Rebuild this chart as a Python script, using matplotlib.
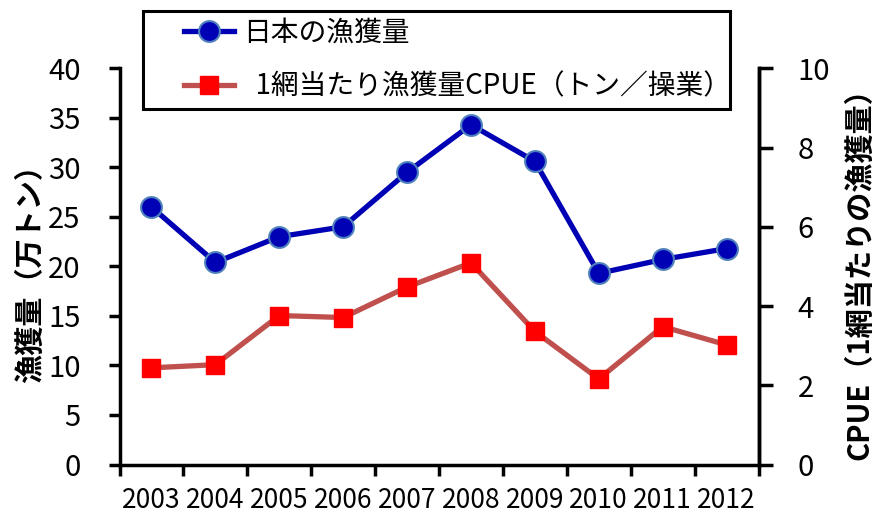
import numpy as np
import matplotlib
matplotlib.use('Agg')
import matplotlib.pyplot as plt
from matplotlib.legend_handler import HandlerLine2D

plt.rcParams['font.family'] = ['Noto Sans CJK JP', 'DejaVu Sans']

# data
years = ['2003', '2004', '2005', '2006', '2007', '2008', '2009', '2010', '2011', '2012']
catch = [26.0, 20.4, 23.0, 24.0, 29.5, 34.3, 30.6, 19.3, 20.7, 21.8]   # 万トン
cpue = [2.44, 2.52, 3.76, 3.71, 4.48, 5.09, 3.36, 2.16, 3.48, 3.02]    # トン／操業

label_catch = '日本の漁獲量'
label_cpue = '  1網当たり漁獲量CPUE（トン／操業）'

fig = plt.figure(figsize=(8.82, 5.17), dpi=100)
ax = fig.add_axes([0.1355, 0.1015, 0.7245, 0.7664])
ax2 = ax.twinx()

x = np.arange(len(years))

l1, = ax.plot(x, catch, color='#0000B4', lw=3.8, marker='o', markersize=15,
              markerfacecolor='#0000B4', markeredgecolor='#4F81BD', markeredgewidth=1.5,
              zorder=4)
l2, = ax2.plot(x, cpue, color='#C0504D', lw=3.8, marker='s', markersize=13,
               markerfacecolor='#FF0000', markeredgecolor='#FF0000', zorder=3)

# axes limits / ticks
ax.set_xlim(-0.5, len(years) - 0.5)
ax.set_ylim(0, 40)
ax.set_yticks(np.arange(0, 41, 5))
ax2.set_ylim(0, 10)
ax2.set_yticks(np.arange(0, 11, 2))

ax.set_xticks(np.arange(-0.5, len(years), 1))
ax.set_xticklabels([])
ax.set_xticks(x, minor=True)
ax.set_xticklabels(years, minor=True)
ax.tick_params(axis='x', which='major', direction='out', length=8, width=2.5)
ax.tick_params(axis='x', which='minor', length=0, labelsize=19, pad=16)
ax.tick_params(axis='y', direction='out', length=8, width=2.5, labelsize=21, pad=20)
ax2.tick_params(axis='y', direction='out', length=10, width=2.5, labelsize=21, pad=18)

ax.spines['top'].set_visible(False)
for s in ['left', 'bottom', 'right']:
    ax.spines[s].set_linewidth(2.5)
for s in ['top', 'left', 'bottom']:
    ax2.spines[s].set_visible(False)
ax2.spines['right'].set_linewidth(2.5)

ax.set_ylabel('漁獲量（万トン）', fontsize=21, fontweight='bold', labelpad=2)
ax2.set_ylabel('CPUE（1網当たりの漁獲量）', fontsize=21, fontweight='bold', labelpad=10)

# legend box at the top
hm = {l1: HandlerLine2D(xpad=1.23), l2: HandlerLine2D(xpad=1.23)}
leg = fig.legend([l1, l2], [label_catch, label_cpue], loc='upper left',
                 bbox_to_anchor=(0.1621, 0.7853, 0.6655, 0.1934), mode='expand',
                 borderaxespad=0, fontsize=20, handlelength=3.03, handletextpad=0.32,
                 borderpad=0.25, labelspacing=0.85, fancybox=False,
                 framealpha=1, edgecolor='black', handler_map=hm)
leg.get_frame().set_linewidth(2.2)

fig.savefig('out.png', dpi=100)
